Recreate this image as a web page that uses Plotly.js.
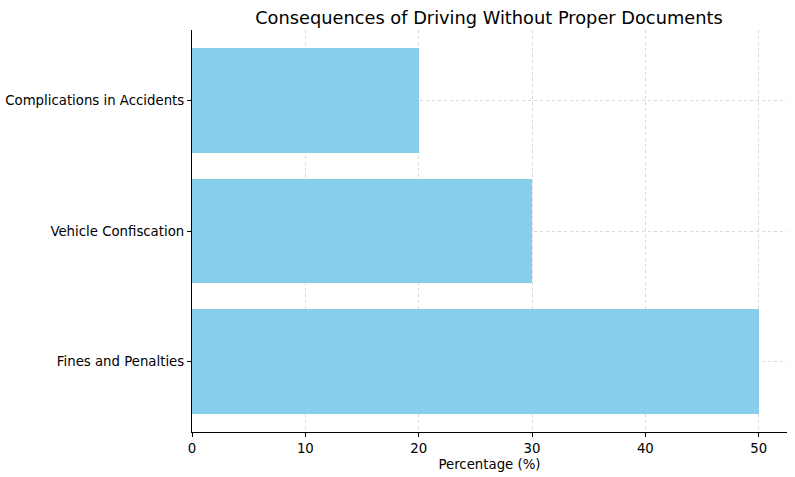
<!DOCTYPE html>
<html>
<head>
<meta charset="utf-8">
<script src="https://cdn.plot.ly/plotly-3.0.1.min.js"></script>
<style>html,body{margin:0;padding:0;background:#fff}#chart{width:795px;height:477px}</style>
</head>
<body>
<div id="chart"></div>
<script>
const categories = ["Fines and Penalties", "Vehicle Confiscation", "Complications in Accidents"];
const percentages = [50, 30, 20];
const xTicks = [0, 10, 20, 30, 40, 50];

const trace = {
  type: 'bar',
  orientation: 'h',
  x: percentages,
  y: [0, 1, 2],
  width: 0.8,
  marker: {color: 'rgba(135,206,235,1)', line: {width: 0}},
  hoverinfo: 'skip'
};

const gridCol = 'rgba(190,190,190,0.6)';
const layout = {
  width: 795, height: 477,
  margin: {l: 192, r: 8, t: 30, b: 45},
  paper_bgcolor: '#fff', plot_bgcolor: '#fff',
  font: {family: 'DejaVu Sans', color: '#000'},
  title: {text: 'Consequences of Driving Without Proper Documents', font: {size: 17.8, family: 'DejaVu Sans', color: '#000'}, x: 0.615, xanchor: 'center', y: 0.962, yanchor: 'middle'},
  showlegend: false,
  bargap: 0,
  xaxis: {
    range: [0, 52.5], tickvals: xTicks, ticktext: xTicks.map(String),
    showline: true, linecolor: '#000', linewidth: 1.1,
    ticks: 'outside', ticklen: 4, tickwidth: 1, tickcolor: '#000',
    showgrid: true, gridcolor: gridCol, griddash: 'dot', gridwidth: 1,
    zeroline: false, layer: 'above traces',
    tickfont: {size: 13.3, family: 'DejaVu Sans'},
    title: {text: 'Percentage (%)', font: {size: 13.3, family: 'DejaVu Sans'}, standoff: 4}
  },
  yaxis: {
    range: [-0.54, 2.54], tickvals: [0, 1, 2], ticktext: categories,
    showline: true, linecolor: '#000', linewidth: 1.1,
    ticks: 'outside', ticklen: 4, tickwidth: 1, tickcolor: '#000',
    showgrid: true, gridcolor: gridCol, griddash: 'dot', gridwidth: 1,
    zeroline: false, layer: 'above traces',
    tickfont: {size: 13.3, family: 'DejaVu Sans'}
  }
};

Plotly.newPlot('chart', [trace], layout, {staticPlot: true, displayModeBar: false});
</script>
</body>
</html>
